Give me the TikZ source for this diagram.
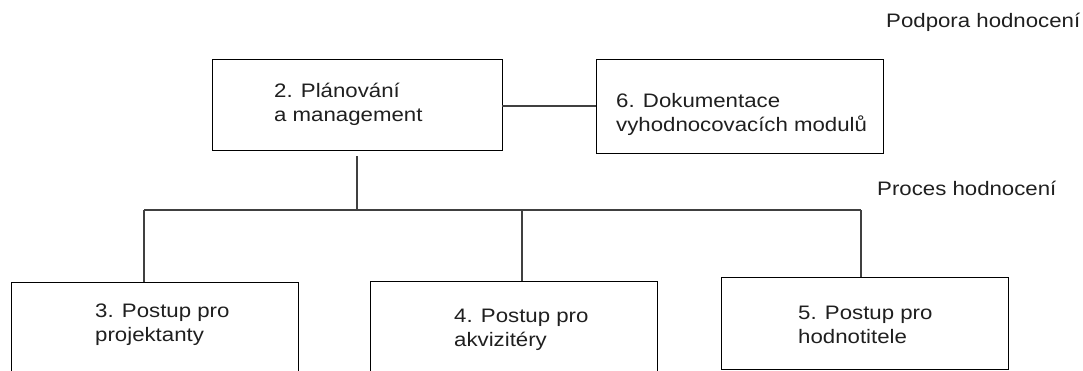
\documentclass[tikz,border=0pt]{standalone}
\usepackage{fontspec}
\setmainfont{Liberation Sans}
\newfontfamily\diagfont[FakeStretch=1.14]{Liberation Sans}
\begin{document}
\begin{tikzpicture}[x=1pt,y=-1pt,
  box/.style={draw=black,line width=1.4pt,anchor=north west,inner sep=0pt,fill=white},
  % multi-line labels: the base anchor sits on the last line's baseline
  lbl/.style={anchor=base west,inner sep=0pt,align=left,text=black!88,
    font=\diagfont\fontsize{19.5}{24}\selectfont},
  wire/.style={draw=black!75,line width=1.1pt}]
\useasboundingbox (0,0) rectangle (1083,370);
\clip (0,0) rectangle (1083,370);

% boxes
\node[box,minimum width=290pt,minimum height=91pt] (b2) at (212,59) {};
\node[box,minimum width=287pt,minimum height=94pt] (b6) at (596,59) {};
\node[box,minimum width=287pt,minimum height=100pt] (b3) at (11,282) {};
\node[box,minimum width=287pt,minimum height=100pt] (b4) at (370,281) {};
\node[box,minimum width=287pt,minimum height=92pt] (b5) at (721,277) {};

% box texts
\node[lbl] (t2) at (274,121) {2. Plánování\\a management};
\node[lbl] (t6) at (616,131) {6. Dokumentace\\vyhodnocovacích modulů};
\node[lbl] (t3) at (95,341) {3. Postup pro\\projektanty};
\node[lbl] (t4) at (454,346) {4. Postup pro\\akvizitéry};
\node[lbl] (t5) at (798,343) {5. Postup pro\\hodnotitele};

% section captions
\node[lbl] (cap1) at (886,27) {Podpora hodnocení};
\node[lbl] (cap2) at (877,195) {Proces hodnocení};

% connectors
\coordinate (link) at (502,106);
\coordinate (top) at (357,156);
\coordinate (j) at (357,210);
\coordinate (jl) at (144,210);
\coordinate (jm) at (522,210);
\coordinate (jr) at (861,210);
\draw[wire] (link) -- (link -| b6.west);
\draw[wire] (top) -- (j);
\draw[wire] (jl) -- (jr);
\draw[wire] (jl) -- (jl |- b3.north);
\draw[wire] (jm) -- (jm |- b4.north);
\draw[wire] (jr) -- (jr |- b5.north);
\end{tikzpicture}
\end{document}
